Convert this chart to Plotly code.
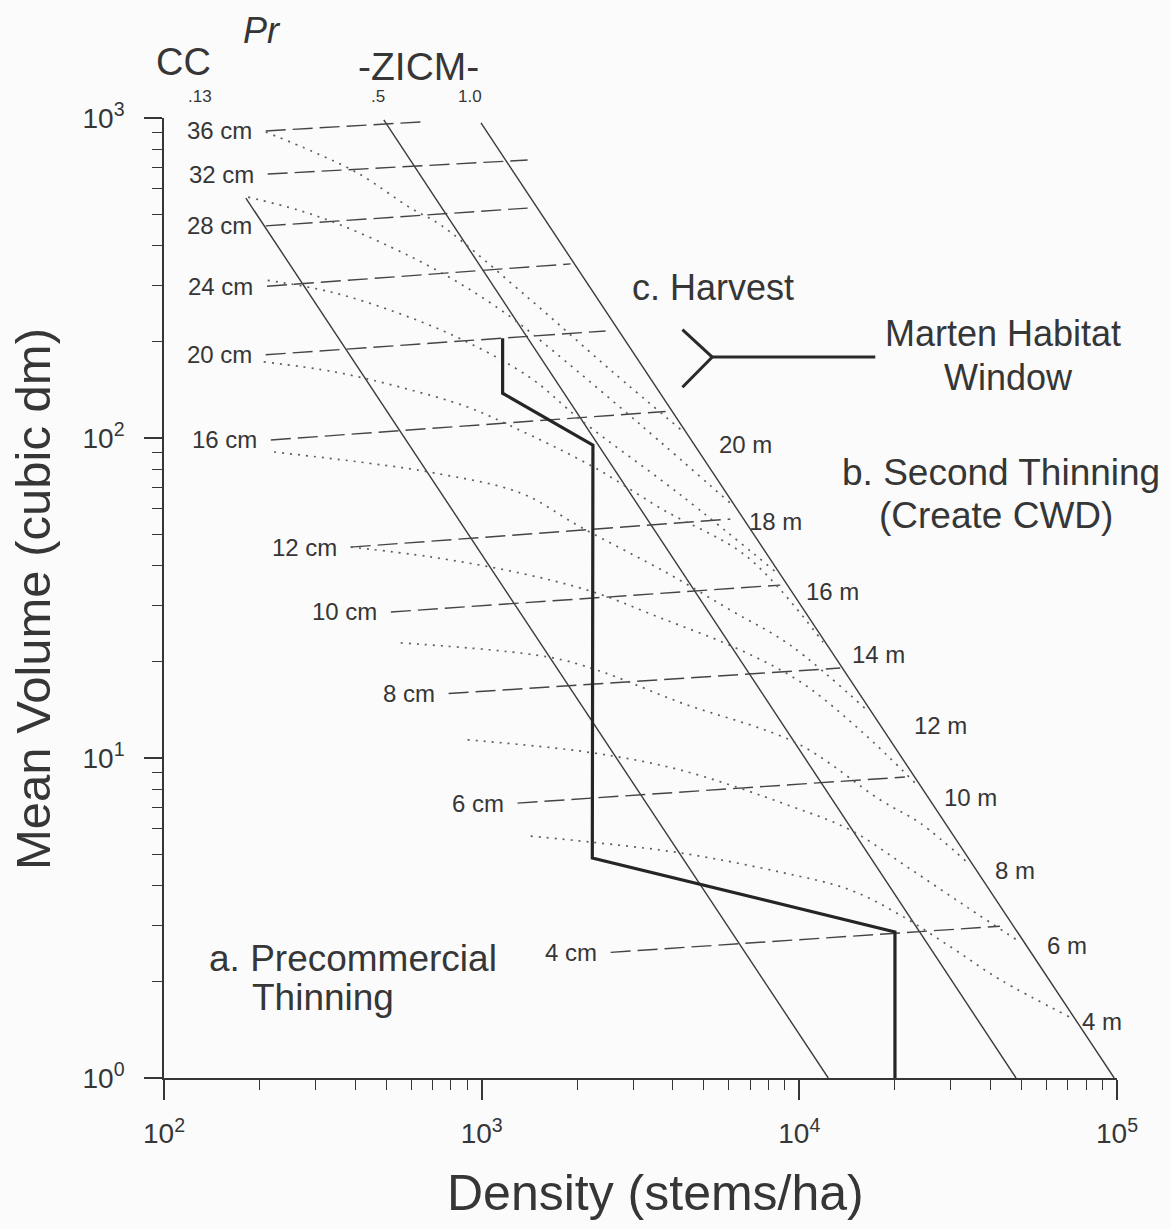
import math
import plotly.graph_objects as go

# ---------------- data ----------------
x_tick_vals = [1e2, 1e3, 1e4, 1e5]
x_tick_text = ["10<sup>2</sup>", "10<sup>3</sup>", "10<sup>4</sup>", "10<sup>5</sup>"]
y_tick_vals = [1, 10, 100, 1000]
y_tick_text = ["10<sup>0</sup>", "10<sup>1</sup>", "10<sup>2</sup>", "10<sup>3</sup>"]
x_minor_vals = [m * 10 ** k for k in (2, 3, 4) for m in range(2, 10)]
y_minor_vals = [m * 10 ** k for k in (0, 1, 2) for m in range(2, 10)]

# relative density (self-thinning) lines: CC .13, ZICM .5, ZICM 1.0
rd_N_start = [181, 492, 995]
rd_V_start = [562, 986, 965]
rd_N_end = [12330, 48100, 98000]
rd_V_end = [1, 1, 1]

# quadratic mean diameter isolines (dashed)
diam_labels = ["36 cm", "32 cm", "28 cm", "24 cm", "20 cm", "16 cm",
               "12 cm", "10 cm", "8 cm", "6 cm", "4 cm"]
diam_N_start = [209, 212, 209, 211, 209, 217, 387, 518, 787, 1297, 2547]
diam_V_start = [911, 668, 460, 298, 182, 98.6, 45.6, 28.6, 15.9, 7.23, 2.47]
diam_N_end = [643, 1395, 1395, 1905, 2455, 3793, 6067, 8710, 13450, 21500, 42800]
diam_V_end = [972, 739, 523, 350, 216, 121, 55.8, 34.7, 19.1, 8.72, 2.98]

# dominant height isolines (dotted)
height_labels = ["20 m", "18 m", "16 m", "14 m", "12 m", "10 m", "8 m", "6 m", "4 m"]
h20_N = [209, 296, 407, 598, 743, 1426, 2547, 4345]
h20_V = [904, 783, 673, 523, 463, 270, 163, 104]
h18_N = [184, 264, 360, 518, 692, 923, 1233, 1567, 3162, 6150]
h18_V = [566, 516, 463, 395, 342, 290, 239, 198, 110, 61.8]
h16_N = [212, 335, 544, 877, 1426, 2047, 4227, 8530]
h16_V = [311, 286, 246, 202, 154, 114, 66.4, 37.8]
h14_N = [206, 343, 556, 903, 1261, 2249, 3733, 6855, 11880]
h14_V = [173, 161, 144, 125, 108, 81.2, 59.6, 42.5, 23.0]
h12_N = [222, 438, 706, 1327, 2047, 3846, 6067, 9370, 16600]
h12_V = [90.4, 83.5, 77.8, 67.3, 52.7, 37.8, 29.0, 22.5, 13.9]
h10_N = [387, 692, 1327, 2249, 3656, 6295, 10070, 15560, 23500]
h10_V = [45.6, 42.5, 37.8, 33.0, 27.4, 22.1, 17.3, 12.2, 8.23]
h8_N = [556, 1613, 2317, 4227, 9860, 18000, 24000, 33700]
h8_V = [22.9, 20.7, 18.8, 14.9, 11.1, 7.39, 6.26, 4.73]
h6_N = [903, 2203, 4227, 9370, 14450, 21900, 33700, 49500]
h6_V = [11.4, 10.4, 9.17, 7.08, 5.96, 4.56, 3.42, 2.66]
h4_N = [1426, 2203, 4227, 8710, 14450, 20800, 29900, 42850, 71100]
h4_V = [5.70, 5.46, 5.05, 4.40, 3.87, 3.23, 2.57, 2.03, 1.55]
height_N = [h20_N, h18_N, h16_N, h14_N, h12_N, h10_N, h8_N, h6_N, h4_N]
height_V = [h20_V, h18_V, h16_V, h14_V, h12_V, h10_V, h8_V, h6_V, h4_V]

# management trajectory (thick line)
traj_N = [20000, 20000, 2230, 2240, 1164, 1164]
traj_V = [1, 2.86, 4.87, 95, 138, 205]

# marten habitat window bracket
bracket_N = [4285, 5320, 4285]
bracket_V = [218, 179, 144]
window_N = [5320, 17340]
window_V = [179, 179]

# ---------------- styling ----------------
FONT = "Liberation Sans, Arial, Helvetica, sans-serif"
INK = "#363636"
W, H = 1171, 1229
L, R, T, B = 164, 54, 118, 151


def paper(px, py):
    return (px - L) / (W - L - R), (H - B - py) / (H - T - B)


fig = go.Figure()

for i in range(len(rd_N_start)):
    fig.add_trace(go.Scatter(x=[rd_N_start[i], rd_N_end[i]], y=[rd_V_start[i], rd_V_end[i]],
                             mode="lines", line=dict(color="#3a3a3a", width=1.4),
                             hoverinfo="skip", showlegend=False))

for i in range(len(diam_labels)):
    fig.add_trace(go.Scatter(x=[diam_N_start[i], diam_N_end[i]], y=[diam_V_start[i], diam_V_end[i]],
                             mode="lines", line=dict(color="#444444", width=1.4, dash="20px,7px"),
                             hoverinfo="skip", showlegend=False))

for n, v in zip(height_N, height_V):
    fig.add_trace(go.Scatter(x=n, y=v, mode="lines", line_shape="spline",
                             line=dict(color="#5e5e5e", width=1.7, dash="2px,6px"),
                             hoverinfo="skip", showlegend=False))

fig.add_trace(go.Scatter(x=traj_N, y=traj_V, mode="lines",
                         line=dict(color="#252525", width=3.2),
                         hoverinfo="skip", showlegend=False))
fig.add_trace(go.Scatter(x=bracket_N, y=bracket_V, mode="lines",
                         line=dict(color="#2a2a2a", width=3),
                         hoverinfo="skip", showlegend=False))
fig.add_trace(go.Scatter(x=window_N, y=window_V, mode="lines",
                         line=dict(color="#2a2a2a", width=3),
                         hoverinfo="skip", showlegend=False))

annotations = []
for i, lab in enumerate(diam_labels):
    annotations.append(dict(x=math.log10(diam_N_start[i]), y=math.log10(diam_V_start[i]),
                            xref="x", yref="y", text=lab, showarrow=False,
                            xanchor="right", yanchor="middle", xshift=-12,
                            font=dict(size=24, color=INK, family=FONT)))

height_label_px = [(745, 445), (775, 521), (832, 591), (878, 654), (940, 725),
                   (970, 797), (1015, 870), (1067, 945), (1102, 1021)]
for lab, (px, py) in zip(height_labels, height_label_px):
    x, y = paper(px, py)
    annotations.append(dict(x=x, y=y, xref="paper", yref="paper", text=lab, showarrow=False,
                            xanchor="center", yanchor="middle",
                            font=dict(size=24, color=INK, family=FONT)))

texts = [
    ("c. Harvest", 630, 287, "left", 36),
    ("Marten Habitat", 1003, 333, "center", 36),
    ("Window", 1008, 377, "center", 36),
    ("b. Second Thinning", 840, 472, "left", 37),
    ("(Create CWD)", 877, 515, "left", 37),
    ("a. Precommercial", 207, 958, "left", 37),
    ("Thinning", 250, 997, "left", 37),
    ("<i>Pr</i>", 262, 30, "center", 36),
    ("CC", 183, 62, "center", 38),
    ("-ZICM-", 418, 67, "center", 39),
    (".13", 200, 97, "center", 17),
    (".5", 378, 97, "center", 17),
    ("1.0", 470, 97, "center", 17),
]
for t, px, py, xa, fs in texts:
    x, y = paper(px, py)
    annotations.append(dict(x=x, y=y, xref="paper", yref="paper", text=t, showarrow=False,
                            xanchor=xa, yanchor="middle",
                            font=dict(size=fs, color=INK, family=FONT)))

# axis titles
x, y = paper(655, 1193)
annotations.append(dict(x=x, y=y, xref="paper", yref="paper", text="Density (stems/ha)",
                        showarrow=False, xanchor="center", yanchor="middle",
                        font=dict(size=50, color=INK, family=FONT)))
x, y = paper(33, 599)
annotations.append(dict(x=x, y=y, xref="paper", yref="paper", text="Mean Volume (cubic dm)",
                        showarrow=False, xanchor="center", yanchor="middle", textangle=-90,
                        font=dict(size=49, color=INK, family=FONT)))

axis_common = dict(type="log", showgrid=False, zeroline=False, showline=True,
                   linecolor=INK, linewidth=1.6, ticks="outside", tickcolor=INK,
                   tickwidth=1.6, tickmode="array",
                   tickfont=dict(size=28, color=INK, family=FONT))

fig.update_layout(
    width=W, height=H,
    margin=dict(l=L, r=R, t=T, b=B),
    paper_bgcolor="#fbfbfb", plot_bgcolor="#fbfbfb",
    showlegend=False,
    annotations=annotations,
    xaxis=dict(range=[2, 5], tickvals=x_tick_vals, ticktext=x_tick_text, ticklen=20,
               ticklabelstandoff=10,
               minor=dict(ticks="outside", ticklen=10, tickwidth=1.4, tickcolor=INK,
                          tickmode="array", tickvals=x_minor_vals),
               **axis_common),
    yaxis=dict(range=[0, 3], tickvals=y_tick_vals, ticktext=y_tick_text, ticklen=18,
               ticklabelstandoff=14,
               minor=dict(ticks="outside", ticklen=10, tickwidth=1.4, tickcolor=INK,
                          tickmode="array", tickvals=y_minor_vals),
               **axis_common),
)

fig.write_html("out.html")
